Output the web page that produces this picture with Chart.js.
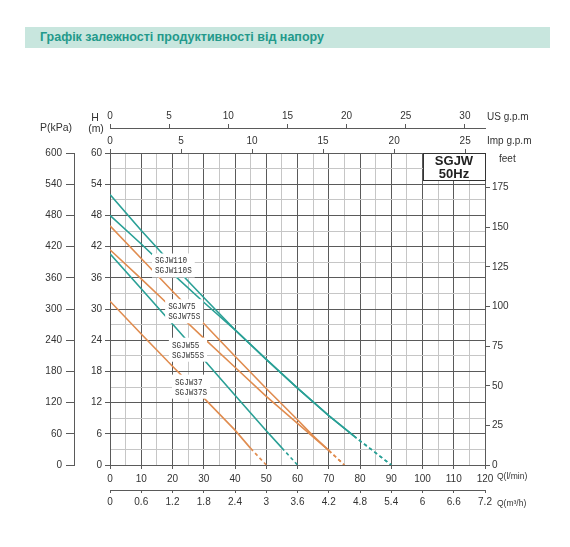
<!DOCTYPE html>
<html>
<head>
<meta charset="utf-8">
<script src="https://cdn.jsdelivr.net/npm/chart.js@4/dist/chart.umd.min.js"></script>
<style>
  html, body { margin: 0; padding: 0; background: #fff; overflow: hidden; }
  #wrap { position: relative; width: 570px; height: 547px; }
  #chart { position: absolute; left: 0; top: 0; }
  #title {
    position: absolute; left: 25px; top: 27px; width: 525px; height: 21px;
    box-sizing: border-box; padding-left: 15px;
    background: #c8e6de; color: #23998b;
    font: bold 12.5px "Liberation Sans", Arial, sans-serif; line-height: 21px;
  }
</style>
</head>
<body>
<div id="wrap">
  <canvas id="chart" width="570" height="547"></canvas>
  <div id="title">Графік залежності продуктивності від напору</div>
</div>
<script>
// Q in l/min, H in m
var Q_110  = [0, 10, 20, 30, 40, 50, 60, 70, 78, 90];
var H_110  = [52, 45.1, 38.5, 32.2, 26, 20.3, 14.8, 9.5, 5.6, 0];
var Q_110S = [0, 10, 20, 30, 40, 50, 60, 70, 78, 90];
var H_110S = [48, 42.5, 36.8, 31.3, 26, 20.3, 14.8, 9.5, 5.6, 0];
var Q_75   = [0, 10, 20, 30, 40, 50, 60, 65, 70, 75];
var H_75   = [46, 39.7, 33.4, 27.2, 20.9, 14.7, 8.7, 5.6, 2.8, 0];
var Q_75S  = [0, 10, 20, 30, 40, 50, 60, 65, 70, 75];
var H_75S  = [41.4, 35.8, 30.1, 24.4, 18.8, 13.2, 8, 5.4, 2.8, 0];
var Q_55   = [0, 10, 20, 30, 40, 50, 55, 60];
var H_55   = [40.6, 33.9, 27.1, 20.3, 13.4, 6.6, 3.3, 0];
var Q_37   = [0, 10, 20, 30, 40, 45, 50];
var H_37   = [31.5, 25.2, 19, 12.9, 6.7, 3.2, 0];

// axis ticks
var qGrid    = [0, 5, 10, 15, 20, 25, 30, 35, 40, 45, 50, 55, 60, 65, 70, 75, 80, 85, 90, 95, 100, 105, 110, 115, 120];
var m3Ticks  = [0, 0.6, 1.2, 1.8, 2.4, 3, 3.6, 4.2, 4.8, 5.4, 6, 6.6, 7.2];
var usTicks  = [0, 5, 10, 15, 20, 25, 30];
var impTicks = [0, 5, 10, 15, 20, 25];
var hGrid    = [0, 3, 6, 9, 12, 15, 18, 21, 24, 27, 30, 33, 36, 39, 42, 45, 48, 51, 54, 57, 60];
var kpaTicks = [0, 60, 120, 180, 240, 300, 360, 420, 480, 540, 600];
var feetTicks = [0, 25, 50, 75, 100, 125, 150, 175];

var TEAL = '#2aa096';
var ORANGE = '#e08c4f';
var DARK = '#5a5a5a';
var LIGHT = '#c6c6c6';
var TXT = '#333';
var FONT = { family: '"Liberation Sans", Arial, sans-serif', size: 10 };

// curve tags: top-left corner of the text block in data units
var tags = [
  { lines: ['SGJW110', 'SGJW110S'], q: 14.4, h: 40.1 },
  { lines: ['SGJW75', 'SGJW75S'], q: 18.6, h: 31.3 },
  { lines: ['SGJW55', 'SGJW55S'], q: 19.8, h: 23.9 },
  { lines: ['SGJW37', 'SGJW37S'], q: 20.8, h: 16.8 },
];

function toPoints(qs, hs) {
  return qs.map(function (q, i) { return { x: q, y: hs[i] }; });
}

function curve(qs, hs, color) {
  var last = qs.length - 1;
  return {
    data: toPoints(qs, hs),
    borderColor: color,
    borderWidth: 1.6,
    pointRadius: 0,
    fill: false,
    tension: 0,
    segment: {
      borderDash: function (c) { return c.p1DataIndex === last ? [3.5, 3] : undefined; },
    },
  };
}

function fixedTicks(values) {
  return function (scale) {
    scale.ticks = values.map(function (v) { return { value: v }; });
  };
}

function sideScale(position, weight, min, max, values, size, tickLen, pad) {
  var horizontal = position === 'top' || position === 'bottom';
  return {
    type: 'linear',
    position: position,
    weight: weight,
    min: min,
    max: max,
    afterBuildTicks: fixedTicks(values),
    afterFit: function (s) { if (horizontal) s.height = size; else s.width = size; },
    ticks: {
      autoSkip: false, maxRotation: 0, padding: pad, color: TXT, font: FONT,
      callback: function (v) { return String(v); },
    },
    grid: { drawOnChartArea: false, tickLength: tickLen, tickColor: DARK },
    border: { color: DARK },
  };
}

var tagPlugin = {
  id: 'tags',
  afterDatasetsDraw: function (chart) {
    var ctx = chart.ctx;
    var xs = chart.scales.x, ys = chart.scales.y;
    ctx.save();
    ctx.font = '9px "Liberation Mono", "DejaVu Sans Mono", monospace';
    ctx.textBaseline = 'top';
    tags.forEach(function (t) {
      var x = xs.getPixelForValue(t.q);
      var y = ys.getPixelForValue(t.h);
      var w = 0;
      t.lines.forEach(function (l) { w = Math.max(w, ctx.measureText(l).width * 0.85); });
      ctx.fillStyle = '#fff';
      ctx.fillRect(x - 3, y - 3, w + 6, t.lines.length * 10 + 4);
      ctx.fillStyle = TXT;
      t.lines.forEach(function (l, i) {
        ctx.save();
        ctx.translate(x, y + i * 10);
        ctx.scale(0.85, 1);
        ctx.fillText(l, 0, 0);
        ctx.restore();
      });
    });

    // model box in the top right corner
    var a = chart.chartArea;
    ctx.fillStyle = '#fff';
    ctx.fillRect(a.right - 62, a.top, 62, 27);
    ctx.strokeStyle = '#333';
    ctx.lineWidth = 1;
    ctx.strokeRect(a.right - 62 + 0.5, a.top + 0.5, 62, 27);
    ctx.fillStyle = '#222';
    ctx.font = 'bold 13px "Liberation Sans", Arial, sans-serif';
    ctx.textAlign = 'center';
    ctx.textBaseline = 'middle';
    ctx.fillText('SGJW', a.right - 31, a.top + 8);
    ctx.fillText('50Hz', a.right - 31, a.top + 21);
    ctx.restore();
  },
  afterDraw: function (chart) {
    var ctx = chart.ctx;
    ctx.save();
    ctx.fillStyle = TXT;
    ctx.textBaseline = 'middle';
    ctx.font = '10.5px "Liberation Sans", Arial, sans-serif';
    ctx.textAlign = 'left';
    ctx.fillText('P(kPa)', 40, 128);
    ctx.font = '10px "Liberation Sans", Arial, sans-serif';
    ctx.fillText('US g.p.m', 487, 117);
    ctx.fillText('Imp g.p.m', 487, 141);
    ctx.fillText('feet', 499, 159);
    ctx.textAlign = 'center';
    ctx.font = '10.5px "Liberation Sans", Arial, sans-serif';
    ctx.fillText('H', 95, 118);
    ctx.fillText('(m)', 96, 129);
    ctx.textAlign = 'left';
    ctx.font = '8.5px "Liberation Sans", Arial, sans-serif';
    ctx.fillText('Q(l/min)', 497, 477);
    ctx.fillText('Q(m³/h)', 497, 504);
    ctx.restore();
  },
};

new Chart(document.getElementById('chart'), {
  type: 'line',
  data: {
    datasets: [
      curve(Q_110, H_110, TEAL),
      curve(Q_110S, H_110S, TEAL),
      curve(Q_75, H_75, ORANGE),
      curve(Q_75S, H_75S, ORANGE),
      curve(Q_55, H_55, TEAL),
      curve(Q_37, H_37, ORANGE),
    ],
  },
  options: {
    responsive: false,
    animation: false,
    layout: { padding: { left: 30, right: 40, top: 103, bottom: 32 } },
    plugins: { legend: { display: false }, tooltip: { enabled: false } },
    scales: {
      x: {
        type: 'linear', position: 'bottom', weight: 0, min: 0, max: 120,
        afterBuildTicks: fixedTicks(qGrid),
        afterFit: function (s) { s.height = 25; },
        ticks: {
          autoSkip: false, maxRotation: 0, padding: 4, color: TXT, font: FONT,
          callback: function (v) { return v % 10 === 0 ? String(v) : ''; },
        },
        grid: {
          tickLength: 4,
          color: function (c) { return c.tick && c.tick.value % 10 === 0 ? DARK : LIGHT; },
          tickColor: function (c) { return c.tick && c.tick.value % 10 === 0 ? DARK : 'rgba(0,0,0,0)'; },
        },
        border: { color: DARK },
      },
      xm3: sideScale('bottom', 1, 0, 7.2, m3Ticks, 25, 3, 3),
      xImp: sideScale('top', 0, 0, 120 / 4.54609, impTicks, 25, 4, 2),
      xUS: sideScale('top', 1, 0, 120 / 3.78541, usTicks, 25, 4, 2),
      y: {
        type: 'linear', position: 'left', weight: 0, min: 0, max: 60,
        afterBuildTicks: fixedTicks(hGrid),
        afterFit: function (s) { s.width = 36; },
        ticks: {
          autoSkip: false, padding: 3, color: TXT, font: FONT,
          callback: function (v) { return v % 6 === 0 ? String(v) : ''; },
        },
        grid: {
          tickLength: 5,
          color: function (c) { return c.tick && c.tick.value % 6 === 0 ? DARK : LIGHT; },
          tickColor: function (c) { return c.tick && c.tick.value % 6 === 0 ? DARK : 'rgba(0,0,0,0)'; },
        },
        border: { color: DARK },
      },
      yP: sideScale('left', 1, 0, 600, kpaTicks, 44, 8, 4),
      yFt: sideScale('right', 0, 0, 60 * 3.28084, feetTicks, 45, 5, 2),
    },
  },
  plugins: [tagPlugin],
});
</script>
</body>
</html>
